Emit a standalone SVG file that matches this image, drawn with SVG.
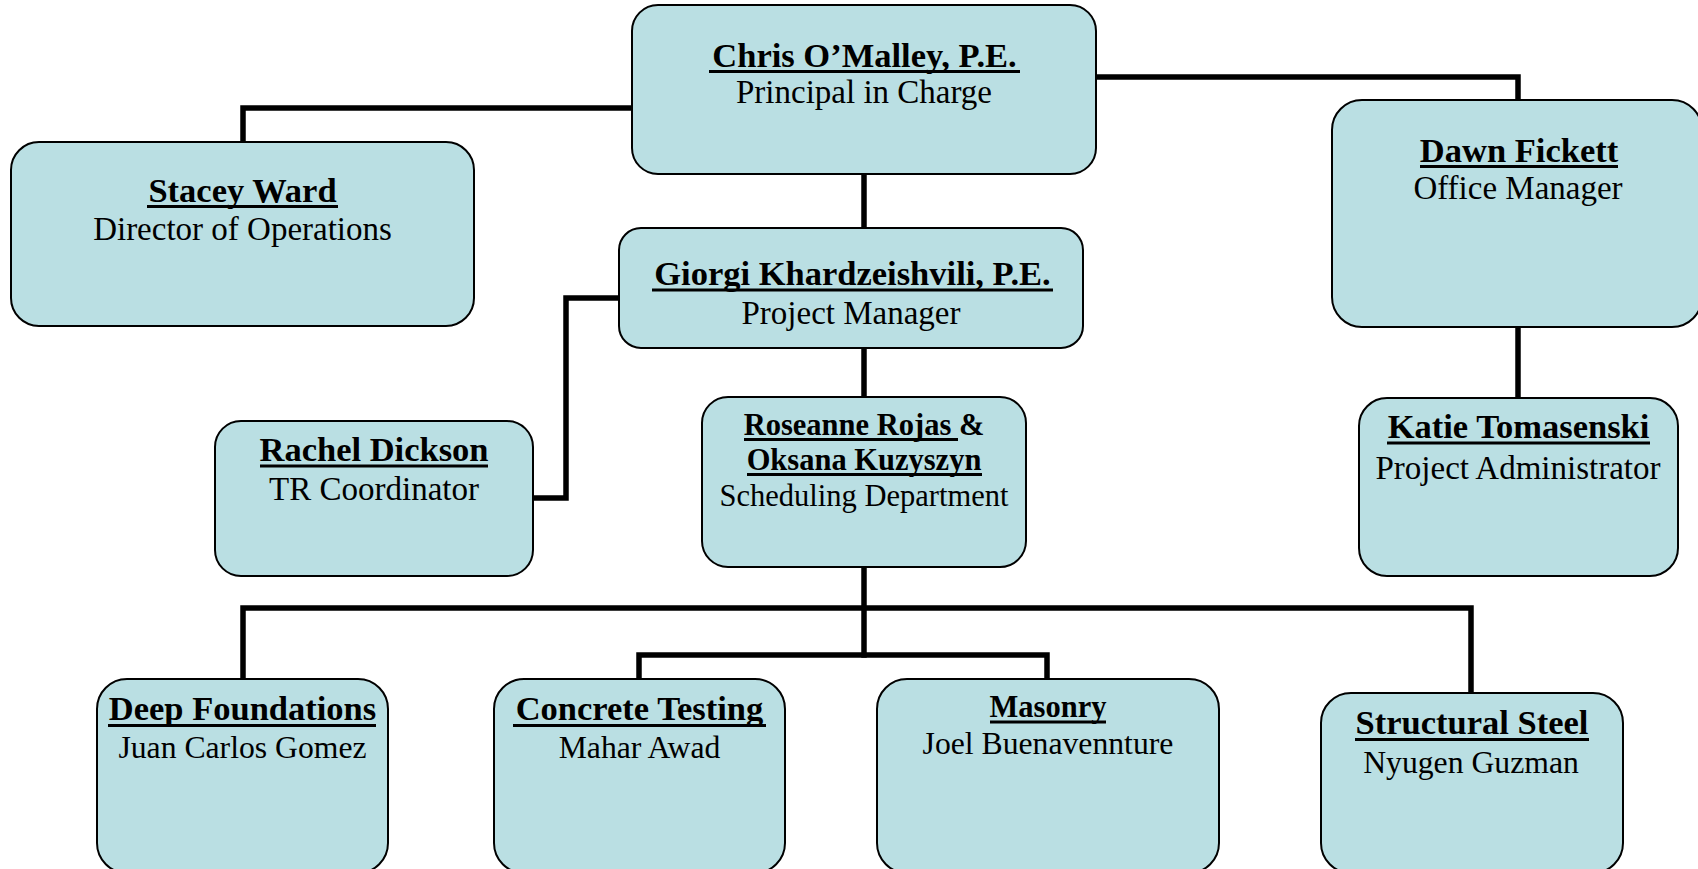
<svg xmlns="http://www.w3.org/2000/svg" width="1698" height="869" viewBox="0 0 1698 869">
<style>
.box{fill:#BADFE3;stroke:#000;stroke-width:2}
.con{fill:none;stroke:#000;stroke-width:5.5;stroke-linejoin:miter;stroke-linecap:square}
.ul{stroke:#000;stroke-width:3}
text{font-family:"Liberation Serif","Times New Roman",serif;fill:#000;text-anchor:middle}
.b{font-weight:bold;font-size:34.5px}
.r{font-size:33px}
.bs{font-weight:bold;font-size:30.5px}
.rs{font-size:31.7px}
</style>
<rect width="1698" height="869" fill="#fff"/>
<g id="connectors">
<path class="con" d="M632,108 H243 V142"/>
<path class="con" d="M1096,77 H1518 V100"/>
<path class="con" d="M864,174 V228"/>
<path class="con" d="M1518,327 V398"/>
<path class="con" d="M619,298 H566 V498 H533"/>
<path class="con" d="M864,348 V397"/>
<path class="con" d="M864,567 V655"/>
<path class="con" d="M243,679 V608 H1471 V693"/>
<path class="con" d="M639,679 V655 H1047 V679"/>
</g>
<g id="chris">
<rect class="box" x="632" y="5" width="464" height="169" rx="26"/>
<text class="b" x="864.5" y="67">Chris O’Malley, P.E.</text>
<line class="ul" x1="709" y1="71.5" x2="1020" y2="71.5"/>
<text class="r" x="864" y="103">Principal in Charge</text>
</g>
<g id="stacey">
<rect class="box" x="11" y="142" width="463" height="184" rx="28"/>
<text class="b" x="242.5" y="202">Stacey Ward</text>
<line class="ul" x1="147" y1="206.5" x2="338" y2="206.5"/>
<text class="r" x="242.5" y="240">Director of Operations</text>
</g>
<g id="dawn">
<rect class="box" x="1332" y="100" width="370" height="227" rx="30"/>
<text class="b" x="1519" y="162">Dawn Fickett</text>
<line class="ul" x1="1420" y1="166.5" x2="1618" y2="166.5"/>
<text class="r" x="1518" y="199">Office Manager</text>
</g>
<g id="katie">
<rect class="box" x="1359" y="398" width="319" height="178" rx="28"/>
<text class="b" x="1518.5" y="438">Katie Tomasenski</text>
<line class="ul" x1="1387" y1="443" x2="1650" y2="443"/>
<text class="r" x="1518" y="479">Project Administrator</text>
</g>
<g id="giorgi">
<rect class="box" x="619" y="228" width="464" height="120" rx="22"/>
<text class="b" x="852.5" y="285">Giorgi Khardzeishvili, P.E.</text>
<line class="ul" x1="652" y1="290" x2="1053" y2="290"/>
<text class="r" x="851" y="324">Project Manager</text>
</g>
<g id="rachel">
<rect class="box" x="215" y="421" width="318" height="155" rx="26"/>
<text class="b" x="374" y="461">Rachel Dickson</text>
<line class="ul" x1="260" y1="466" x2="488" y2="466"/>
<text class="r" x="374" y="500">TR Coordinator</text>
</g>
<g id="scheduling">
<rect class="box" x="702" y="397" width="324" height="170" rx="26"/>
<text class="bs" x="864" y="435">Roseanne Rojas &amp;</text>
<line class="ul" x1="744" y1="439.5" x2="958" y2="439.5"/>
<text class="bs" x="864" y="470">Oksana Kuzyszyn</text>
<line class="ul" x1="747" y1="474.5" x2="982" y2="474.5"/>
<text class="bs" x="864" y="506" style="font-weight:normal">Scheduling Department</text>
</g>
<g id="deep">
<rect class="box" x="97" y="679" width="291" height="194" rx="30"/>
<text class="b" x="242.5" y="720">Deep Foundations</text>
<line class="ul" x1="108" y1="725.5" x2="376" y2="725.5"/>
<text class="rs" x="242.5" y="758">Juan Carlos Gomez</text>
</g>
<g id="concrete">
<rect class="box" x="494" y="679" width="291" height="194" rx="30"/>
<text class="b" x="639.5" y="720">Concrete Testing</text>
<line class="ul" x1="513" y1="725.5" x2="766" y2="725.5"/>
<text class="rs" x="639.5" y="758">Mahar Awad</text>
</g>
<g id="masonry">
<rect class="box" x="877" y="679" width="342" height="194" rx="30"/>
<text class="bs" x="1048" y="717">Masonry</text>
<line class="ul" x1="990" y1="722" x2="1106" y2="722"/>
<text class="rs" x="1048" y="754">Joel Buenavennture</text>
</g>
<g id="steel">
<rect class="box" x="1321" y="693" width="302" height="180" rx="30"/>
<text class="b" x="1472" y="734">Structural Steel</text>
<line class="ul" x1="1355" y1="739.5" x2="1589" y2="739.5"/>
<text class="rs" x="1471" y="773">Nyugen Guzman</text>
</g>
</svg>
